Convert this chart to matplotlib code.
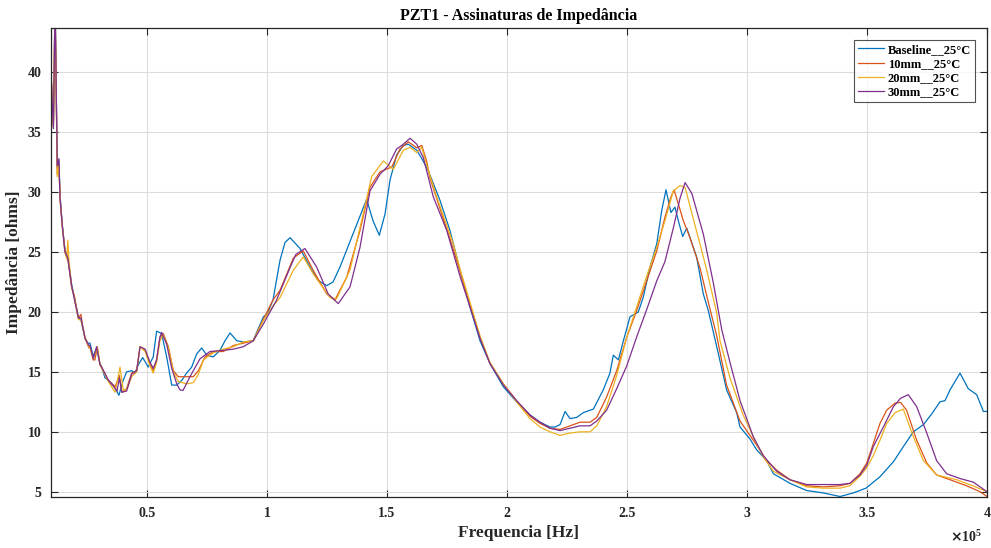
import matplotlib
matplotlib.use("Agg")
import matplotlib.pyplot as plt
from matplotlib.ticker import FuncFormatter, FixedLocator

plt.rcParams['font.family'] = ['Liberation Serif', 'DejaVu Serif']
plt.rcParams['font.weight'] = 'bold'

# Frequency samples in kHz and impedance in ohms for each signature
f_base = [10, 11.0, 11.7, 12.6, 13.3, 13.75, 14.7, 15.8, 17.0, 18.6, 19.7, 21.4, 22.5, 24.2, 25.3,
          26.25, 27.6, 29.0, 30.4, 31.1, 32.5, 33.9, 36.0, 38.3, 40.1, 41.5, 43.6, 45.0, 46.4, 48.2,
          50.5, 52.6, 54.0, 56.1, 58.2, 60.3, 62.4, 64.5, 66.5, 68.6, 70.7, 72.8, 74.9, 77.6, 80.4,
          82.5, 84.6, 87.4, 90.1, 94.2, 98.5, 100, 102.5, 105.4, 107.5, 109.6, 113.75, 118.6, 121.5,
          124.9, 127.5, 130.4, 135.8, 141.5, 144.2, 146.8, 149.2, 151.25, 154.0, 156.8, 158.9, 162.4,
          164.5, 167.2, 172.1, 176.25, 180.4, 184.6, 188.75, 192.9, 198.5, 204, 209.6, 213.75, 217.9,
          220, 222.1, 224.2, 226.25, 229, 231.8, 236, 240.1, 242.9, 244.3, 246.4, 248.5, 251.25,
          254.7, 256.8, 259.6, 262.4, 264.5, 266.25, 268.3, 270, 271.4, 273.2, 274.9, 277.6, 279,
          281.8, 283.9, 287.4, 291.5, 295.7, 297.1, 301.25, 304, 308.2, 311, 317.9, 324.9, 331.8,
          338.75, 344.3, 349.6, 355.4, 361, 365.1, 369.3, 373.5, 377, 380.4, 382.5, 384.6, 388.75,
          392.2, 395.7, 398.5, 400]
z_base = [40.0, 35.6, 46.0, 32.0, 32.6, 29.8, 27.3, 25.2, 24.6, 22.3, 21.2, 19.6, 19.3, 17.8, 17.4,
          17.4, 16.3, 17.0, 15.7, 15.4, 14.5, 14.3, 13.9, 13.05, 14.3, 15.0, 15.1, 14.9, 15.6, 16.2,
          15.4, 16.25, 18.4, 18.2, 16.25, 13.9, 13.9, 14.3, 14.9, 15.4, 16.5, 17.0, 16.4, 16.25, 16.8,
          17.6, 18.25, 17.6, 17.5, 17.6, 19.6, 19.8, 21.0, 24.3, 25.8, 26.2, 25.3, 23.5, 22.6,
          22.2, 22.5, 23.75, 26.5, 29.4, 27.6, 26.4, 28.2, 31.0, 33.1, 33.9, 34.0, 33.5,
          32.8, 31.8, 29.3, 26.8, 23.5, 20.4, 17.6, 15.7, 13.75, 12.5, 11.4, 10.8, 10.4,
          10.4, 10.6, 11.7, 11.1, 11.2, 11.6, 11.9, 13.5, 14.9, 16.4, 16.0, 17.6, 19.6,
          20.0, 21.25, 23.75, 25.7, 28.5, 30.2, 28.3, 28.75, 27.6, 26.3, 27.0, 25.4, 24.6,
          21.5, 20.1, 17.1, 13.5, 11.6, 10.4, 9.4, 8.5, 7.6, 6.5, 5.7, 5.1, 4.9,
          4.6, 4.9, 5.3, 6.25, 7.5, 8.75, 10.0, 10.6, 11.5, 12.5, 12.6, 13.5, 14.9,
          13.6, 13.1, 11.7, 11.7]

f_10mm = [10, 11.0, 11.7, 12.6, 13.3, 13.75, 14.7, 15.8, 17.0, 18.6, 19.7, 21.4, 22.5, 23.0, 24.2,
          25.8, 26.25, 27.6, 28.3, 29.3, 30.4, 31.1, 33.9, 36.7, 38.5, 39.5, 41.5, 43.6, 45.7, 47.1,
          49.2, 51.25, 52.6, 54.0, 55.4, 56.8, 58.9, 61.0, 63.0, 66.5, 69.3, 71.4, 74.2, 77.6, 81.8,
          86.0, 90.1, 94.3, 98.5, 102.5, 105.4, 111, 115.1, 119.2, 124.9, 128.3, 133.2, 138.75,
          142.9, 147.1, 152.0, 155.4, 158.9, 162.4, 164.5, 166.5, 167.9, 172.1, 176.25, 180.4,
          184.6, 188.75, 192.9, 198.5, 204, 209.6, 213.75, 217.9, 222.1, 226.25, 230.4, 234.6,
          237.4, 241.5, 245.7, 249.9, 254, 258.2, 262.4, 265.8, 268.3, 269.6, 271.4, 273.5, 276.25,
          280.4, 283.9, 287.4, 291.5, 297.1, 304, 308.2, 312.4, 317.9, 324.9, 331.8, 338.75, 342.9,
          347.1, 349.9, 352.6, 355.4, 358.2, 361.7, 364, 366.5, 370.7, 374.9, 379, 384.6, 391.5,
          397.1, 400]
z_10mm = [40.0, 35.5, 46.0, 31.5, 32.3, 29.6, 27.2, 25.2, 24.5, 22.0, 21.4, 19.5, 19.8, 19.0, 17.8,
          17.0, 17.1, 16.0, 16.0, 17.1, 15.6, 15.4, 14.3, 13.75, 14.7, 13.3, 13.6, 14.9, 15.1, 17.1,
          16.8, 15.7, 15.1, 16.0, 17.9, 18.2, 17.1, 15.1, 14.6, 14.6, 14.6, 15.1, 16.25, 16.7, 16.7,
          17.2, 17.4, 17.6, 19.4, 21.0, 21.8, 24.5, 25.1, 23.5, 21.5, 21.0, 22.9, 26.8,
          30.4, 31.7, 32.1, 33.6, 34.2, 33.7, 33.9, 32.6, 31.2, 28.6, 26.1, 23.4,
          20.6, 17.9, 15.7, 14.0, 12.6, 11.3, 10.7, 10.3, 10.2, 10.5, 10.8, 10.8,
          11.2, 12.9, 15.1, 17.9, 20.1, 22.6, 25.1, 27.9, 29.6, 30.2, 29.0, 27.6, 26.2,
          23.7, 20.8, 18.0, 13.9, 10.9, 8.9, 7.6, 6.8, 6.0, 5.5, 5.4, 5.5, 5.7,
          6.5, 7.4, 9.0, 10.7, 11.8, 12.4, 12.45, 11.8, 9.3, 7.4, 6.4, 6.0, 5.5,
          5.0, 4.6]

f_20mm = [10, 11.0, 11.7, 12.6, 13.3, 13.75, 14.7, 15.8, 16.6, 17.0, 17.5, 18.6, 19.7, 21.4, 22.5,
          24.2, 25.8, 26.25, 27.6, 29.3, 30.4, 31.1, 33.9, 36.7, 38.75, 40.1, 41.5, 43.6, 45.7, 47.1,
          49.2, 51.25, 52.6, 54.0, 55.4, 56.8, 58.9, 61.0, 63.0, 66.5, 69.3, 71.4, 73.5, 77.6, 81.8,
          86.0, 90.1, 94.3, 98.5, 102.5, 105.4, 111, 115.1, 119.2, 126.25, 129.0, 134.6, 140.1,
          143.6, 148.5, 152.6, 156.8, 159.6, 162.4, 164.5, 166.5, 170.7, 177.6, 180.4, 184.6,
          188.75, 192.9, 198.5, 204, 209.6, 213.75, 217.9, 222.1, 226.25, 230.4, 234.6, 237.4,
          241.5, 245.7, 249.9, 254, 258.2, 262.4, 265.8, 269.3, 272.1, 274.2, 277.6, 281.8, 283.2,
          287.4, 288.75, 292.9, 298.4, 304, 306.8, 311, 317.9, 324.9, 331.8, 338.75, 342.9, 347.1,
          349.9, 352.6, 355.4, 358.2, 361.7, 365.1, 369.3, 373.5, 379, 387.4, 394, 400]
z_20mm = [40.0, 35.4, 46.0, 31.3, 32.2, 29.5, 27.1, 25.0, 24.4, 26.0, 24.3, 22.1, 21.2, 19.4, 19.3,
          17.9, 17.1, 17.0, 16.1, 17.0, 15.6, 15.3, 14.2, 13.3, 15.4, 13.5, 13.5, 14.6, 15.0, 17.1,
          16.7, 15.5, 14.9, 15.8, 17.6, 18.1, 17.0, 15.0, 14.2, 14.0, 14.1, 14.8, 16.0, 16.6, 16.9,
          17.1, 17.5, 17.6, 19.3, 20.5, 21.2, 23.5, 24.6, 23.2, 21.2, 21.1, 23.5, 28.2,
          31.3, 32.6, 31.9, 33.5, 33.75, 33.3, 33.75, 32.3, 29.6, 25.7, 23.6, 20.8,
          18.0, 15.8, 14.0, 12.5, 11.1, 10.4, 10.0, 9.7, 9.9, 10.0, 10.0, 10.5,
          12.1, 14.7, 17.9, 20.4, 23.0, 25.4, 27.6, 30.1, 30.55, 30.4, 27.8, 24.6, 23.5,
          19.9, 17.6, 14.5, 11.4, 9.0, 7.9, 6.7, 6.0, 5.4, 5.3, 5.3, 5.5, 6.3,
          7.0, 8.0, 9.3, 10.7, 11.6, 11.9, 9.6, 7.6, 6.4, 6.0, 5.5, 5.0]

f_30mm = [10, 11.0, 11.7, 12.6, 13.3, 13.75, 14.7, 15.8, 17.0, 18.6, 19.7, 21.4, 22.5, 24.2, 25.8,
          26.25, 27.6, 29.0, 30.4, 31.1, 33.9, 36.0, 37.5, 38.5, 39.5, 41.5, 43.6, 45.7, 47.1, 49.2,
          51.25, 52.6, 54.0, 55.4, 56.1, 58.2, 60.3, 62.4, 63.75, 65, 67.9, 72.1, 76.25, 81.8, 86.0,
          90.1, 94.3, 98.5, 104, 109.6, 112, 115.8, 120.7, 125.5, 129.7, 134.6, 138.75, 142.9,
          147.1, 150.5, 154.0, 156.8, 159.6, 162.4, 165.1, 169.3, 174.9, 180.4, 184.6, 188.75,
          192.9, 198.5, 204, 209.6, 213.75, 217.9, 222.1, 226.25, 230.4, 234.6, 237.4, 241.5,
          245.7, 249.9, 254, 258.2, 262.4, 265.8, 269.3, 272.1, 274.2, 277, 281.8, 286, 289.5,
          292.9, 297.1, 302.6, 306.8, 312.4, 317.9, 324.9, 331.8, 338.75, 342.9, 347.1, 349.9,
          352.6, 356.8, 361, 364, 367.2, 370.7, 374.9, 379, 383.2, 388.75, 394.3, 400]
z_30mm = [39.8, 35.3, 46.0, 32.2, 32.8, 29.5, 27.2, 25.0, 24.5, 22.2, 21.1, 19.5, 19.5, 17.8, 17.2,
          17.2, 16.1, 17.1, 15.6, 15.4, 14.3, 13.8, 13.4, 14.5, 13.3, 13.4, 14.8, 15.1, 17.1, 16.9,
          15.8, 15.3, 16.0, 17.9, 18.3, 17.3, 15.3, 14.0, 13.5, 13.45, 14.6, 16.1, 16.7, 16.8, 16.9,
          17.1, 17.6, 19.0, 21.0, 23.7, 24.8, 25.3, 23.75, 21.5, 20.7, 22.1, 25.4, 30.1,
          31.5, 32.2, 33.6, 34.0, 34.5, 34.0, 32.9, 29.6, 26.8, 23.0, 20.4, 17.8,
          15.7, 13.9, 12.6, 11.4, 10.8, 10.3, 10.1, 10.3, 10.5, 10.5, 10.9, 11.8,
          13.6, 15.5, 17.9, 20.2, 22.6, 24.2, 27.0, 29.5, 30.8, 29.9, 26.5, 22.4, 18.5,
          15.8, 12.6, 9.6, 8.0, 6.7, 6.0, 5.6, 5.6, 5.6, 5.7, 6.4, 7.2,
          8.75, 10.4, 12.1, 12.8, 13.1, 12.1, 9.9, 7.6, 6.5, 6.1, 5.8, 5.0]

series_labels = ['Baseline__25°C', '10mm__25°C', '20mm__25°C', '30mm__25°C']
series_colors = ['#0072BD', '#D95319', '#EDB120', '#7E2F8E']
x_ticks = [0.5, 1, 1.5, 2, 2.5, 3, 3.5, 4]
y_ticks = [5, 10, 15, 20, 25, 30, 35, 40]

fig = plt.figure(figsize=(9.91, 5.48), dpi=100)
ax = fig.add_axes([51 / 991, 1 - 497 / 548, 936 / 991, 469 / 548])

curves = [(f_base, z_base), (f_10mm, z_10mm), (f_20mm, z_20mm), (f_30mm, z_30mm)]
for (f, z), lab, col in zip(curves, series_labels, series_colors):
    ax.plot([v * 1e3 for v in f], z, color=col, lw=0.9, label=lab)

ax.set_xlim(1.0e4, 4.0e5)
ax.set_ylim(4.56, 43.7)
ax.xaxis.set_major_locator(FixedLocator([t * 1e5 for t in x_ticks]))
ax.xaxis.set_major_formatter(FuncFormatter(lambda v, p: '%g' % (v / 1e5)))
ax.yaxis.set_major_locator(FixedLocator(y_ticks))
ax.yaxis.set_major_formatter(FuncFormatter(lambda v, p: '%g' % v))

ax.grid(True, color='#dcdcdc', lw=0.8)
ax.set_axisbelow(True)
for s in ax.spines.values():
    s.set_color('#262626')
    s.set_linewidth(0.9)
ax.tick_params(direction='in', length=5, width=0.8, color='#262626',
               top=True, right=True, labelsize=10, labelcolor='#262626', pad=7)
for t in ax.get_xticklabels() + ax.get_yticklabels():
    t.set_fontweight('bold')

ax.set_title('PZT1 - Assinaturas de Impedância', fontsize=11.5, fontweight='bold',
             color='black', pad=6)
ax.set_xlabel('Frequencia [Hz]', fontsize=12.5, fontweight='bold', color='#262626', labelpad=4)
ax.set_ylabel('Impedância [ohms]', fontsize=12.5, fontweight='bold', color='#262626', labelpad=4)

fig.text(966 / 991, 1 - 537 / 548, r'$\times\mathregular{10^5}$', fontsize=10,
         ha='center', va='center', color='#262626')

leg = ax.legend(loc='upper right', fontsize=9, frameon=True, fancybox=False,
                edgecolor='#262626', handlelength=2.1, handletextpad=0.3,
                borderpad=0.3, labelspacing=0.18, borderaxespad=0.0,
                bbox_to_anchor=(975 / 991, 1 - 40 / 548), bbox_transform=fig.transFigure)
leg.get_frame().set_linewidth(0.8)
for t in leg.get_texts():
    t.set_fontweight('bold')

fig.savefig('out.png', dpi=100)
